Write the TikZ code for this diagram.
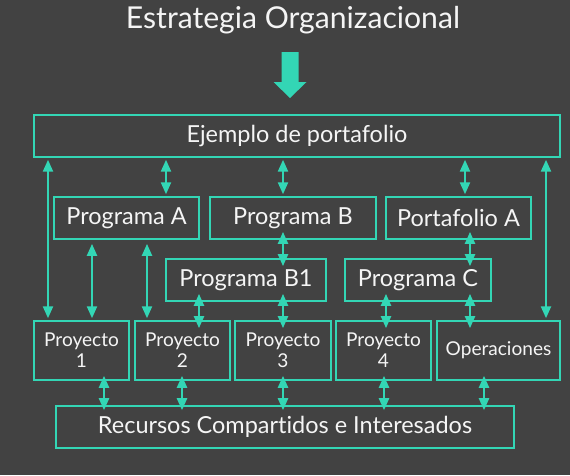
\documentclass[tikz,border=0pt]{standalone}
\usepackage{fontspec}
\setmainfont{Lato}[Ligatures=NoCommon]
\usetikzlibrary{arrows.meta}
\definecolor{bgc}{RGB}{66,66,66}
\definecolor{tealc}{RGB}{51,214,181}
\definecolor{txtc}{RGB}{245,245,245}
\begin{document}
\begin{tikzpicture}[x=0.75pt,y=-0.75pt,
  box/.style={draw=tealc, line width=1.3pt, text=txtc, inner sep=0pt,
    font=\fontsize{17.6}{22}\selectfont, minimum height=42*0.75pt},
  pbox/.style={box, align=center, minimum height=59*0.75pt,
    font=\fontsize{14.3}{15.8}\selectfont},
  link/.style={draw=tealc, line width=1.7pt,
    {Triangle[width=7.5pt,length=9pt]}-{Triangle[width=7.5pt,length=9pt]},
    shorten <=1.4pt, shorten >=1.4pt},
  slink/.style={link, shorten <=-6pt, shorten >=-6pt},
  rlink/.style={link, shorten <=-3.8pt, shorten >=-3.8pt},
  ttl/.style={text=txtc, font=\fontsize{22.6}{27}\selectfont}]
\useasboundingbox (0,0) rectangle (570,475);
\fill[bgc] (0,0) rectangle (570,475);
% title and big arrow
\node[ttl] (title) at (293,20) {Estrategia Organizacional};
\fill[tealc] (281.5,52) -- (298.5,52) -- (298.5,82) -- (306.5,82) -- (290,98)
  -- (273.5,82) -- (281.5,82) -- cycle;
% boxes
\node[box, minimum width=526*0.75pt] (ej) at (297,136) {Ejemplo de portafolio};
\node[box, minimum width=145*0.75pt] (pa) at (126.5,218) {Programa A};
\node[box, minimum width=166*0.75pt] (pb) at (293,218) {Programa B};
\node[box, minimum width=145*0.75pt] (pfa) at (458.5,218) {Portafolio A};
\node[box, minimum width=160*0.75pt] (pb1) at (246,280) {Programa B1};
\node[box, minimum width=146*0.75pt] (pc) at (418,280) {Programa C};
\node[pbox, minimum width=95*0.75pt] (p1) at (81.5,350.5) {Proyecto\\1};
\node[pbox, minimum width=95*0.75pt] (p2) at (182.5,350.5) {Proyecto\\2};
\node[pbox, minimum width=96*0.75pt] (p3) at (283,350.5) {Proyecto\\3};
\node[pbox, minimum width=95*0.75pt] (p4) at (383.5,350.5) {Proyecto\\4};
\node[pbox, minimum width=123*0.75pt] (op) at (498.5,350.5) {Operaciones};
\node[box, minimum width=458*0.75pt] (rec) at (285,427) {Recursos Compartidos e Interesados};
% connectors
\draw[link] (ej.south -| 48,0) -- (p1.north -| 48,0);
\draw[link] (ej.south -| 166,0) -- (pa.north -| 166,0);
\draw[link] (ej.south -| 283,0) -- (pb.north -| 283,0);
\draw[link] (ej.south -| 465,0) -- (pfa.north -| 465,0);
\draw[link] (ej.south -| 546,0) -- (op.north -| 546,0);
\draw[link, shorten <=3pt] (pa.south -| 92,0) -- (p1.north -| 92,0);
\draw[link, shorten <=3pt] (pa.south -| 147,0) -- (p2.north -| 147,0);
\draw[slink] (pb.south -| 283,0) -- (pb1.north -| 283,0);
\draw[slink] (pfa.south -| 470,0) -- (pc.north -| 470,0);
\draw[slink] (pb1.south -| 199,0) -- (p2.north -| 199,0);
\draw[slink] (pb1.south -| 283,0) -- (p3.north -| 283,0);
\draw[slink] (pc.south -| 386,0) -- (p4.north -| 386,0);
\draw[slink] (pc.south -| 470,0) -- (op.north -| 470,0);
\draw[rlink] (p1.south -| 104,0) -- (rec.north -| 104,0);
\draw[rlink] (p2.south -| 182,0) -- (rec.north -| 182,0);
\draw[rlink] (p3.south -| 283,0) -- (rec.north -| 283,0);
\draw[rlink] (p4.south -| 384,0) -- (rec.north -| 384,0);
\draw[rlink] (op.south -| 484,0) -- (rec.north -| 484,0);
\end{tikzpicture}
\end{document}
